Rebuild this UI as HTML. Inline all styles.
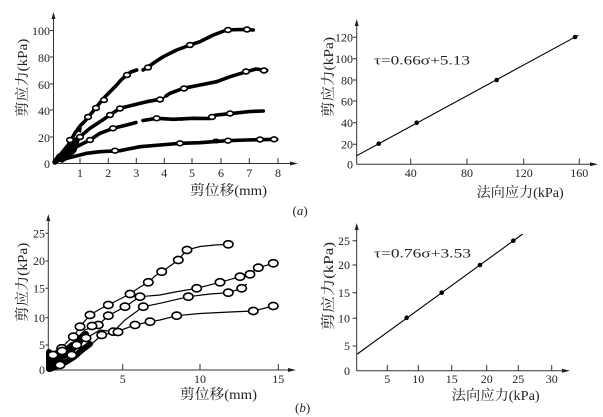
<!DOCTYPE html>
<html><head><meta charset="utf-8"><style>
html,body{margin:0;padding:0;background:#fff;}
svg{display:block;}
text{font-family:"Liberation Serif","DejaVu Serif","Noto Serif CJK SC",serif;fill:#222;}
.t{font-size:12px;}
.l{font-size:14px;}
.ax{stroke:#333;stroke-width:1;fill:none;}
.th{fill:none;stroke:#000;stroke-width:3.6;stroke-linejoin:round;stroke-linecap:round;}
.tn{fill:none;stroke:#000;stroke-width:1.2;}
.ms{fill:none;stroke:none;marker-start:url(#s);marker-mid:url(#s);marker-end:url(#s);}
.mb{fill:none;stroke:none;marker-start:url(#b);marker-mid:url(#b);marker-end:url(#b);}
</style></head><body>
<svg width="603" height="417" viewBox="0 0 603 417" xmlns="http://www.w3.org/2000/svg">
<defs>
<marker id="s" markerUnits="userSpaceOnUse" markerWidth="10" markerHeight="8" refX="5" refY="4"><ellipse cx="5" cy="4" rx="3.3" ry="2.4" fill="#fff" stroke="#000" stroke-width="1.6"/></marker>
<marker id="b" markerUnits="userSpaceOnUse" markerWidth="14" markerHeight="11" refX="7" refY="5.5"><ellipse cx="7" cy="5.5" rx="4.7" ry="3.6" fill="#fff" stroke="#000" stroke-width="1.6"/></marker>
</defs>
<rect width="603" height="417" fill="#fff"/>

<!-- (a) left -->
<path class="ax" d="M53.5,163.5V16M53.5,163.5H294M50,30.5h3.5M50,57h3.5M50,84h3.5M50,110h3.5M50,137h3.5M80,158v5.5M108.3,158v5.5M136.3,158v5.5M164.3,158v5.5M192,158v5.5M221,158v5.5M249.3,158v5.5M278,158v5.5"/>
<path d="M53.5,12l-2,7h4zM298,163.5l-8,-2v4z" fill="#222"/>
<g class="t" text-anchor="end"><text x="50" y="35">100</text><text x="50" y="62">80</text><text x="50" y="89">60</text><text x="50" y="115">40</text><text x="50" y="142">20</text><text x="50" y="168">0</text></g>
<g class="t" text-anchor="middle"><text x="80" y="177">1</text><text x="108.3" y="177">2</text><text x="136.3" y="177">3</text><text x="164.3" y="177">4</text><text x="192" y="177">5</text><text x="221" y="177">6</text><text x="249.3" y="177">7</text><text x="278" y="177">8</text></g>
<text class="l" x="190" y="195" textLength="77" lengthAdjust="spacingAndGlyphs">剪位移(mm)</text>
<text class="l" transform="translate(27,116.7) rotate(-90)" textLength="78" lengthAdjust="spacingAndGlyphs">剪应力(kPa)</text>
<path class="th" d="M55,162L60,157 65,150 70,142 75,133 80,126 85,121 90,115 96.7,106.7 103,99 110,91.7 116.7,85 121,80 126.7,75 131,72 136.7,70M143,70L146.7,68 155,62 163.3,56.7 176.7,50 190,45 200,41.7 213.3,35 226.7,30 240,29.5 253.3,30M55,162L60,155 66.7,146.7 73,141 80,136.7 90,128.3 100,121.7 110,115 120,108.3 133.3,105 146.7,101.7 160,99.3M166,96L170,93.3 183.3,88.3 200,85 216.7,81.7 230,76.7 246.7,71.7 256,69 266.7,70.5M55,162L62,155 70,150 80,145 90,140 100,133.3 113.3,128.3 126.7,125 136,122.5M143,120.5L156.7,118.3 173.3,119.3 193.3,118.3 210,118.5M214,115.5L216.7,115 233.3,113.3 250,111.5 263.3,111M55,162L60,160 73.3,156.7 86.7,153.3 100,151.7 120,150.7 140,146.7 160,145 180,143.3 200,142.7 226.7,140.7 246.7,140 276.7,139.3"/>
<path class="th" style="stroke-width:5.5" d="M55,162L58,158 62,155 66,150 70,147 73,142 77,140 74,150 68,156 62,160"/>
<path fill="#000" d="M77,131l5,-4l-1,6zM72,146l5,-3v6zM158,98l8,-2l-3,5zM205,118l9,-4l-2,6zM176,119l8,-2l-2,4z"/>
<ellipse cx="216" cy="141" rx="4" ry="2.5"/><ellipse cx="61" cy="157" rx="5" ry="4"/><ellipse cx="68" cy="150" rx="4" ry="3.5"/>
<polyline class="ms" points="70,140 88,117 96,108 104,100 127,75 148,67.5 190,45 228,30 247,29.5"/>
<polyline class="ms" points="80,137 110,115 120,108.5 160,99.5 184,88.5 246,71.5 264,70.5"/>
<polyline class="ms" points="90,140 113,128.3 156.7,118.3 212,117 230,113.5"/>
<polyline class="ms" points="115,150.7 180,143.3 228,140.7 260,139.5 274,139.3"/>

<!-- (a) right -->
<path class="ax" d="M356.7,164.3V23M356.7,164.3H594M353,37.3h3.7M353,58.7h3.7M353,80h3.7M353,101h3.7M353,122.7h3.7M353,144.3h3.7M410.7,158.5v5.8M467,158.5v5.8M523.7,158.5v5.8M579.3,158.5v5.8"/>
<path d="M356.7,19l-2,7h4zM598,164.3l-8,-2v4z" fill="#222"/>
<g class="t" text-anchor="end"><text x="353" y="41.5">120</text><text x="353" y="63">100</text><text x="353" y="84.3">80</text><text x="353" y="105.3">60</text><text x="353" y="127">40</text><text x="353" y="148.6">20</text><text x="353" y="168.5">0</text></g>
<g class="t" text-anchor="middle"><text x="410.7" y="177">40</text><text x="467" y="177">80</text><text x="523.7" y="177">120</text><text x="579.3" y="177">160</text></g>
<line x1="356.7" y1="155.7" x2="578.5" y2="35.2" stroke="#000" stroke-width="1.1"/>
<circle cx="378.7" cy="143.7" r="2.3"/><circle cx="416.7" cy="122.7" r="2.3"/><circle cx="496.7" cy="80" r="2.3"/><circle cx="575" cy="37" r="2.3"/>
<text x="374" y="64.5" font-size="13" textLength="96" lengthAdjust="spacingAndGlyphs">τ=0.66σ+5.13</text>
<text class="l" x="476.7" y="197" textLength="87" lengthAdjust="spacingAndGlyphs">法向应力(kPa)</text>
<text class="l" transform="translate(333,117) rotate(-90)" textLength="80" lengthAdjust="spacingAndGlyphs">剪应力(kPa)</text>
<text x="292.5" y="215" font-size="13">(<tspan font-style="italic">a</tspan>)</text>

<!-- (b) left -->
<path class="ax" d="M48.3,370V219M48.3,370H292M45.5,233.3h2.8M45.5,261h2.8M45.5,288.3h2.8M45.5,317.7h2.8M45.5,345h2.8M122.7,364v6M200,364v6M278.3,364v6"/>
<path d="M48.3,214l-2,7h4zM296,370l-8,-2v4z" fill="#222"/>
<g class="t" text-anchor="end"><text x="45" y="237.5">25</text><text x="45" y="265.2">20</text><text x="45" y="292.5">15</text><text x="45" y="322">10</text><text x="45" y="349.2">5</text><text x="45" y="374.2">0</text></g>
<g class="t" text-anchor="middle"><text x="122.7" y="383">5</text><text x="200" y="383">10</text><text x="278.3" y="383">15</text></g>
<text class="l" x="180" y="399" textLength="77" lengthAdjust="spacingAndGlyphs">剪位移(mm)</text>
<text class="l" transform="translate(27,321.7) rotate(-90)" textLength="79" lengthAdjust="spacingAndGlyphs">剪应力(kPa)</text>
<path class="th" style="stroke-width:6" d="M49,369L55,362 60,357 67,352 74,346 80,338 86,334M49,366L56,360 64,356 72,350 80,342M50,369L58,366 66,362 74,357 82,350 90,344M51,358L58,352 66,350 72,345M49,368V352"/>
<path class="tn" d="M49,369L55,360 61.7,348.3 67,342 73.3,336.7 80,326.7 90,315 100,309 108.3,305 120,299 130,294 140,287 148.3,282.3 155,276 161.7,271.7 170,266 178.3,260 186.7,250 200,246.5 215,245 228.3,244.3 233,244.5M49,369L60,355 75,340 85,330 98.3,325 108.3,315.7 125,306.7 140,296.7 160,295 175,292 196.7,288.3 220,282.3 240,276.7 250,274.3 258.3,267.7 273.3,263.3M49,369L65,358 83,340 100,330 113.3,331.7 125,320 143.3,306.7 160,303.3 188.3,296.7 210,294 228.3,292.7 241.7,288.3 246.7,284M49,369L70,360 85,350 101.7,335 115,332.3 135,325 150,321.7 160,320 176.7,315.7 200,313.5 230,312 253.3,311 273.3,306"/>
<polyline class="mb" points="61.7,348.3 73.3,336.7 80,326.7 90,315 108.3,305 130,294 148.3,282.3 161.7,271.7 178.3,260 187,250 228.3,244.3"/>
<polyline class="mb" points="98.3,325 108.3,315.7 125,306.7 140,296.7 196.7,288.3 220,282.3 240,276.7 250,274.3 258.3,267.7 273.3,263.3"/>
<polyline class="mb" points="113.3,331.7 143.3,306.7 188.3,296.7 228.3,292.7 241.7,288.3"/>
<polyline class="mb" points="101.7,335 118,332 135,325 150,321.7 176.7,315.7 253.3,311 273.3,306"/>
<polyline class="mb" points="60,365 53,355 62,351 71.7,355 76.7,345 86,338 92,326"/>

<!-- (b) right -->
<path class="ax" d="M356.7,370.7V227M356.7,370.7H566M352.5,240.7h4.2M352.5,265h4.2M352.5,292.7h4.2M352.5,318.3h4.2M352.5,346h4.2M387.3,365v5.7M418.3,365v5.7M451.7,365v5.7M486.7,365v5.7M518.3,365v5.7M551.7,365v5.7"/>
<path d="M356.7,223l-2,7h4zM570,370.7l-8,-2v4z" fill="#222"/>
<g class="t" text-anchor="end"><text x="350" y="245">25</text><text x="350" y="269.2">20</text><text x="350" y="297">15</text><text x="350" y="322.5">10</text><text x="350" y="350.2">5</text><text x="350" y="375">0</text></g>
<g class="t" text-anchor="middle"><text x="387.3" y="383">5</text><text x="418.3" y="383">10</text><text x="451.7" y="383">15</text><text x="486.7" y="383">20</text><text x="518.3" y="383">25</text><text x="551.7" y="383">30</text></g>
<line x1="357.3" y1="354" x2="522.7" y2="234" stroke="#000" stroke-width="1.1"/>
<circle cx="406.7" cy="317.7" r="2.3"/><circle cx="441.7" cy="292.7" r="2.3"/><circle cx="480" cy="265" r="2.3"/><circle cx="513.3" cy="240.7" r="2.3"/>
<text x="374" y="257.5" font-size="13" textLength="97" lengthAdjust="spacingAndGlyphs">τ=0.76σ+3.53</text>
<text class="l" x="451.7" y="400" textLength="88" lengthAdjust="spacingAndGlyphs">法向应力(kPa)</text>
<text class="l" transform="translate(333,330) rotate(-90)" textLength="88" lengthAdjust="spacingAndGlyphs">剪应力(kPa)</text>
<text x="295" y="412" font-size="13">(<tspan font-style="italic">b</tspan>)</text>
</svg>
</body></html>
